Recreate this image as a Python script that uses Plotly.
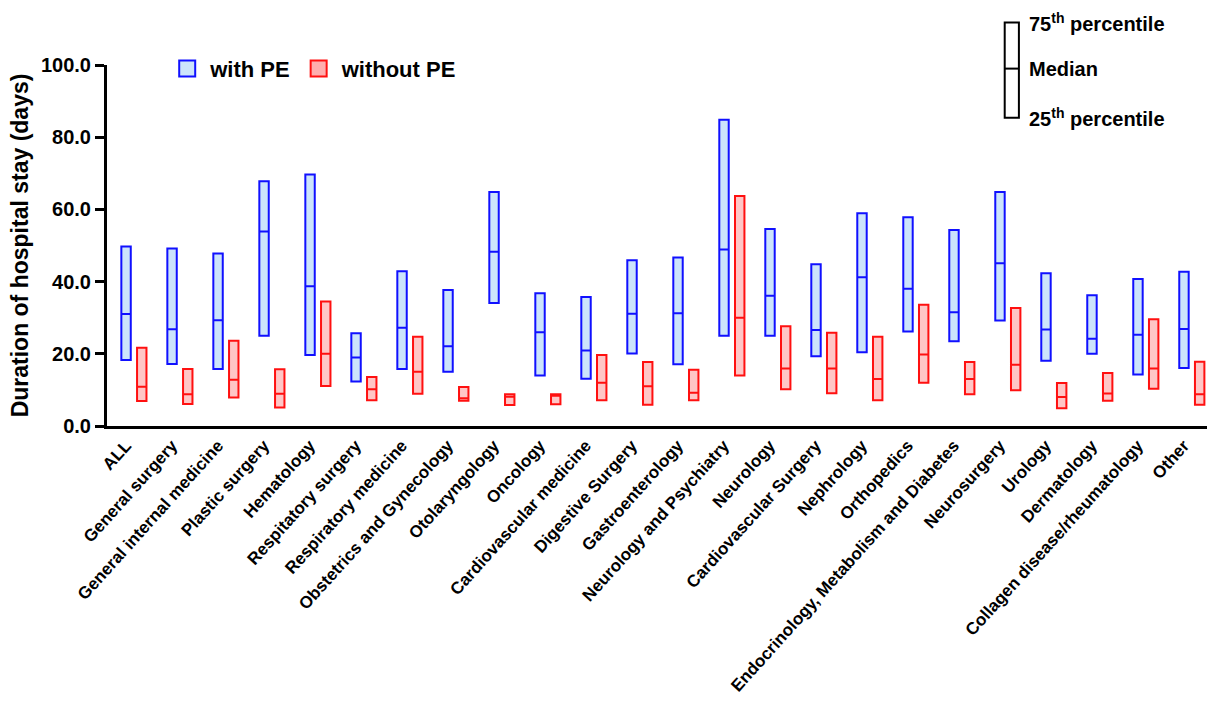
import plotly.graph_objects as go

categories = ["ALL", "General surgery", "General internal medicine", "Plastic surgery",
              "Hematology", "Respitatory surgery", "Respiratory medicine",
              "Obstetrics and Gynecology", "Otolaryngology", "Oncology",
              "Cardiovascular medicine", "Digestive Surgery", "Gastroenterology",
              "Neurology and Psychiatry", "Neurology", "Cardiovascular Surgery",
              "Nephrology", "Orthopedics", "Endocrinology, Metabolism and Diabetes",
              "Neurosurgery", "Urology", "Dermatology", "Collagen disease/rheumatology",
              "Other"]

with_q1 = [18.3, 17.2, 15.8, 25.0, 19.7, 12.3, 15.8, 15.0, 34.1, 14.0, 13.1, 20.1,
           17.1, 25.0, 25.0, 19.3, 20.4, 26.2, 23.5, 29.2, 18.1, 20.0, 14.3, 16.1]
with_med = [31.0, 26.8, 29.3, 53.9, 38.7, 19.0, 27.2, 22.1, 48.3, 26.0, 20.9, 31.1,
            31.2, 48.9, 36.1, 26.6, 41.2, 38.0, 31.5, 45.1, 26.7, 24.2, 25.3, 26.9]
with_q3 = [49.7, 49.2, 47.8, 67.8, 69.7, 25.7, 42.9, 37.7, 64.8, 36.8, 35.7, 45.9,
           46.7, 84.8, 54.6, 44.8, 58.9, 57.8, 54.3, 64.8, 42.3, 36.2, 40.7, 42.7]

without_q1 = [6.9, 6.1, 7.9, 5.1, 11.1, 7.1, 8.9, 7.0, 5.8, 6.0, 7.1, 5.9,
              7.1, 14.0, 10.2, 9.1, 7.1, 12.0, 8.8, 9.9, 4.9, 7.0, 10.3, 5.9]
without_med = [10.9, 8.8, 12.8, 8.9, 20.0, 10.2, 15.0, 7.7, 8.1, 8.4, 12.0, 11.0,
               9.2, 30.0, 15.9, 15.9, 13.0, 19.8, 13.0, 17.0, 8.0, 9.0, 15.9, 8.8]
without_q3 = [21.7, 15.8, 23.6, 15.7, 34.5, 13.6, 24.7, 10.8, 8.8, 8.8, 19.7, 17.7,
              15.6, 63.7, 27.6, 25.8, 24.7, 33.6, 17.7, 32.7, 11.9, 14.7, 29.6, 17.8]

y_ticks = [0, 20, 40, 60, 80, 100]

FONT = "Liberation Sans, Arial, Helvetica, sans-serif"
BLUE, BLUE_FILL = "#1010ff", "#cce4fb"
RED, RED_FILL = "#ff1010", "#ffc6c6"
LEG_RED_FILL = "#ffaeae"

fig = go.Figure()
series = [("with PE", with_q1, with_med, with_q3, BLUE, BLUE_FILL, BLUE_FILL),
          ("without PE", without_q1, without_med, without_q3, RED, RED_FILL, LEG_RED_FILL)]
for name, q1, med, q3, col, fill, legfill in series:
    fig.add_trace(go.Box(
        x=categories, q1=q1, median=med, q3=q3, lowerfence=q1, upperfence=q3,
        name=name, legendgroup=name, showlegend=False,
        fillcolor=fill, line=dict(color=col, width=2),
        whiskerwidth=0, boxpoints=False, hoverinfo="skip"))
for name, q1, med, q3, col, fill, legfill in series:
    fig.add_trace(go.Scatter(
        x=[None], y=[None], mode="markers", name=name, legendgroup=name,
        marker=dict(symbol="square", size=16, color=legfill,
                    line=dict(color=col, width=2)),
        hoverinfo="skip"))

# key in the top-right corner (explanatory glyph)
X0, X1 = 0.8161, 0.829
fig.add_shape(type="rect", xref="paper", yref="paper", x0=X0, x1=X1, y0=0.854, y1=1.118,
              line=dict(color="black", width=2), fillcolor="white")
fig.add_shape(type="line", xref="paper", yref="paper", x0=X0, x1=X1, y0=0.990, y1=0.990,
              line=dict(color="black", width=2))
for txt, yy in [("75<sup>th</sup> percentile", 1.118), ("Median", 0.990),
                ("25<sup>th</sup> percentile", 0.854)]:
    fig.add_annotation(xref="paper", yref="paper", x=0.8364, y=yy, text=txt,
                       showarrow=False, xanchor="left", yanchor="middle",
                       font=dict(family=FONT, size=20, color="black", weight="bold"))

fig.update_layout(
    width=1211, height=704,
    margin=dict(l=107, r=4, t=65, b=278, autoexpand=False),
    paper_bgcolor="white", plot_bgcolor="white",
    boxmode="group", boxgap=0.317, boxgroupgap=0.4,
    showlegend=True,
    legend=dict(orientation="h", x=0.052, y=0.99, xanchor="left", yanchor="middle",
                font=dict(family=FONT, size=22, color="black", weight="bold"),
                itemwidth=36, bgcolor="rgba(0,0,0,0)"),
    font=dict(family=FONT, color="black"),
)
fig.update_xaxes(
    type="category", range=[-0.585, 23.33], automargin=False,
    showline=True, linecolor="black", linewidth=3, ticks="", showgrid=False,
    tickangle=-48, ticklabelshift=-8,
    tickfont=dict(family=FONT, size=17, color="black", weight="bold"),
)
fig.update_yaxes(
    range=[0, 100], tickvals=y_ticks, tickformat=".1f", automargin=False,
    showline=True, linecolor="black", linewidth=3, ticks="outside", ticklen=9,
    tickwidth=3, tickcolor="black", showgrid=False, zeroline=False,
    tickfont=dict(family=FONT, size=20, color="black", weight="bold"),
    title=dict(text="Duration of hospital stay (days)", standoff=6,
               font=dict(family=FONT, size=23, color="black", weight="bold")),
)

fig.write_html("out.html", config={"displayModeBar": False},
               post_script="document.body.style.margin='0';document.body.style.overflow='hidden';")
